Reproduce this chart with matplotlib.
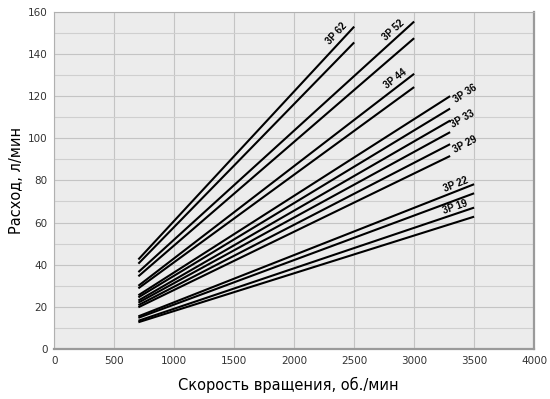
import numpy as np
import matplotlib
matplotlib.use("Agg")
import matplotlib.pyplot as plt

# Pump models and flow lines (two lines per model), rpm -> l/min
models = ["3P 62", "3P 52", "3P 44", "3P 36", "3P 33", "3P 29", "3P 22", "3P 19"]
rpm_start = [700, 700, 700, 700, 700, 700, 700, 700]
rpm_end = [2500, 3000, 3000, 3300, 3300, 3300, 3500, 3500]
flow_start_hi = [42.5, 36.5, 30.0, 25.5, 23.0, 20.8, 15.5, 13.4]
flow_start_lo = [40.5, 34.5, 28.8, 24.5, 22.0, 19.8, 14.8, 12.7]
flow_end_hi = [153.0, 155.4, 130.6, 120.0, 108.4, 97.2, 78.2, 67.1]
flow_end_lo = [145.5, 147.5, 124.3, 114.1, 102.9, 91.6, 73.9, 62.8]

# label positions (data coords)
label_x = [2354, 2831, 2845, 3426, 3407, 3421, 3349, 3340]
label_y = [149.5, 151.5, 128.4, 121.4, 109.2, 97.3, 77.9, 67.3]

fig = plt.figure(figsize=(5.5, 3.99), dpi=100)
ax = fig.add_axes([0.099, 0.1253, 0.872, 0.845])
ax.set_facecolor("#ececec")

ax.set_xlim(0, 4000)
ax.set_ylim(0, 160)
ax.set_xticks(np.arange(0, 4001, 500))
ax.set_yticks(np.arange(0, 161, 20))
ax.set_yticks(np.arange(10, 160, 20), minor=True)
ax.grid(True, which="major", color="#c4c4c4", lw=0.8)
ax.grid(True, which="minor", axis="y", color="#cfcfcf", lw=0.8)
ax.set_axisbelow(True)
ax.tick_params(which="both", length=0, labelsize=7.5, colors="#333333", pad=5)

for side in ["top", "left"]:
    ax.spines[side].set_color("#b0b0b0")
    ax.spines[side].set_linewidth(0.8)
for side in ["right", "bottom"]:
    ax.spines[side].set_color("#9a9a9a")
    ax.spines[side].set_linewidth(1.6)

for i, name in enumerate(models):
    xs = [rpm_start[i], rpm_end[i]]
    ax.plot(xs, [flow_start_hi[i], flow_end_hi[i]], color="black", lw=1.5,
            solid_capstyle="butt")
    ax.plot(xs, [flow_start_lo[i], flow_end_lo[i]], color="black", lw=1.5,
            solid_capstyle="butt")
    slope = (flow_end_hi[i] - flow_start_hi[i]) / (rpm_end[i] - rpm_start[i])
    ang = np.degrees(np.arctan(slope))
    ax.text(label_x[i], label_y[i], name, fontsize=7, fontweight="bold",
            ha="center", va="center", rotation=ang, rotation_mode="anchor",
            transform_rotates_text=True, family="Liberation Sans")

# axis titles placed in figure pixels
fig.text(288 / 550, 1 - 385 / 399, "Скорость вращения, об./мин", fontsize=10.5,
         ha="center", va="center")
fig.text(17 / 550, 1 - 180 / 399, "Расход, л/мин", fontsize=10.5,
         ha="center", va="center", rotation=90)

fig.savefig("out.png", dpi=100)
